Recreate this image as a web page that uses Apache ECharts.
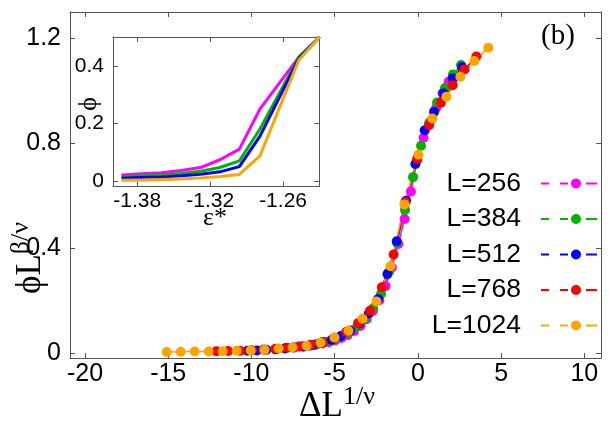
<!DOCTYPE html>
<html>
<head>
<meta charset="utf-8">
<script src="https://cdn.jsdelivr.net/npm/echarts@6/dist/echarts.min.js"></script>
<style>
    html, body { margin: 0; padding: 0; background: #fff; }
    #chart { width: 610px; height: 427px; }
</style>
</head>
<body>
<div id="chart"></div>
<script>
    // main panel: scaled data, one x/y pair of arrays per system size
    var x256 = [-6.88, -6.50, -6.12, -5.74, -5.36, -4.98, -4.60, -4.22, -3.84, -3.46, -3.08, -2.70, -2.32, -1.94, -1.56, -1.18, -0.80, -0.42, -0.04, 0.34, 0.72, 1.10, 1.48, 1.86];
    var y256 = [0.024, 0.027, 0.030, 0.035, 0.040, 0.047, 0.056, 0.068, 0.083, 0.102, 0.128, 0.160, 0.200, 0.255, 0.325, 0.415, 0.510, 0.615, 0.735, 0.820, 0.880, 0.935, 0.990, 1.035];

    var x384 = [-8.45, -7.97, -7.49, -7.01, -6.53, -6.05, -5.57, -5.09, -4.61, -4.13, -3.65, -3.17, -2.69, -2.21, -1.73, -1.25, -0.77, -0.29, 0.19, 0.67, 1.15, 1.63, 2.11, 2.59];
    var y384 = [0.014, 0.017, 0.020, 0.024, 0.028, 0.034, 0.041, 0.050, 0.062, 0.078, 0.100, 0.130, 0.170, 0.225, 0.310, 0.420, 0.545, 0.670, 0.790, 0.875, 0.955, 1.010, 1.062, 1.098];

    var x512 = [-10.23, -9.67, -9.11, -8.55, -7.99, -7.43, -6.87, -6.31, -5.75, -5.19, -4.63, -4.07, -3.51, -2.95, -2.39, -1.83, -1.27, -0.71, -0.15, 0.41, 0.97, 1.53, 2.09, 2.65];
    var y512 = [0.008, 0.009, 0.011, 0.013, 0.016, 0.020, 0.024, 0.030, 0.038, 0.049, 0.064, 0.085, 0.112, 0.150, 0.205, 0.300, 0.425, 0.580, 0.720, 0.849, 0.919, 0.990, 1.047, 1.090];

    var x768 = [-12.11, -11.40, -10.69, -9.98, -9.27, -8.56, -7.85, -7.14, -6.43, -5.72, -5.01, -4.30, -3.59, -2.88, -2.17, -1.46, -0.75, -0.04, 0.67, 1.38, 2.09, 2.80, 3.51];
    var y768 = [0.006, 0.007, 0.008, 0.010, 0.012, 0.015, 0.019, 0.024, 0.031, 0.041, 0.057, 0.080, 0.113, 0.160, 0.250, 0.375, 0.575, 0.740, 0.868, 0.954, 1.021, 1.081, 1.130];

    var x1024 = [-15.09, -14.25, -13.41, -12.57, -11.73, -10.89, -10.05, -9.21, -8.37, -7.53, -6.69, -5.85, -5.01, -4.17, -3.33, -2.49, -1.65, -0.81, 0.03, 0.87, 1.71, 2.55, 3.39, 4.23];
    var y1024 = [0.003, 0.004, 0.005, 0.005, 0.006, 0.008, 0.009, 0.011, 0.016, 0.020, 0.027, 0.038, 0.058, 0.084, 0.130, 0.196, 0.330, 0.566, 0.756, 0.894, 0.977, 1.053, 1.113, 1.164];

    // inset: order parameter vs eps*
    var epsVals = [-1.393, -1.377, -1.360, -1.344, -1.328, -1.312, -1.296, -1.279, -1.247, -1.230];
    var phi256 = [0.020, 0.024, 0.028, 0.036, 0.046, 0.073, 0.110, 0.250, 0.430, 0.500];
    var phi384 = [0.014, 0.017, 0.020, 0.025, 0.033, 0.046, 0.069, 0.180, 0.430, 0.500];
    var phi512 = [0.009, 0.011, 0.013, 0.017, 0.023, 0.031, 0.049, 0.155, 0.425, 0.500];
    var phi1024 = [0.002, 0.003, 0.004, 0.006, 0.010, 0.015, 0.022, 0.087, 0.420, 0.500];

    var mainXTicks = [-20, -15, -10, -5, 0, 5, 10];
    var mainYTicks = [0, 0.4, 0.8, 1.2];
    var insetXTicks = [-1.38, -1.32, -1.26];
    var insetYTicks = [0, 0.2, 0.4];

    var sizeNames = ['L=256', 'L=384', 'L=512', 'L=768', 'L=1024'];
    var colors = ['#ff00ff', '#00b400', '#0000ff', '#ff0000', '#ffa500'];

    function pairs(xs, ys) {
        var out = [];
        for (var i = 0; i < xs.length; i++) {
            out.push([xs[i], ys[i]]);
        }
        return out;
    }

    var axisColor = '#555';

    function axis(gridIndex, position, min, max, ticks, showLabel, fontSize) {
        return {
            type: 'value',
            gridIndex: gridIndex,
            position: position,
            min: min,
            max: max,
            axisLine: { show: true, onZero: false, lineStyle: { color: axisColor, width: 1 } },
            axisTick: { show: true, inside: true, length: 5, customValues: ticks, lineStyle: { color: axisColor } },
            axisLabel: {
                show: showLabel,
                customValues: ticks,
                color: '#000',
                fontSize: fontSize,
                fontFamily: 'Liberation Sans',
                margin: (position === 'left') ? 9 : 4
            },
            splitLine: { show: false }
        };
    }

    var mainSeries = [
        [x256, y256], [x384, y384], [x512, y512], [x768, y768], [x1024, y1024]
    ].map(function (d, i) {
        return {
            name: sizeNames[i],
            type: 'line',
            xAxisIndex: 0,
            yAxisIndex: 0,
            data: pairs(d[0], d[1]),
            symbol: 'circle',
            symbolSize: 10,
            itemStyle: { color: colors[i] },
            lineStyle: { color: colors[i], width: 1.5 },
            emphasis: { disabled: true }
        };
    });

    var insetSeries = [phi256, phi384, phi512, phi1024].map(function (p, i) {
        var c = [colors[0], colors[1], colors[2], colors[4]][i];
        return {
            name: 'inset' + i,
            type: 'line',
            xAxisIndex: 2,
            yAxisIndex: 2,
            data: pairs(epsVals, p),
            symbol: 'none',
            lineStyle: { color: c, width: 3 },
            emphasis: { disabled: true }
        };
    });

    var serif = 'Liberation Serif, DejaVu Serif, serif';
    var titleRich = {
        a: { fontFamily: serif, fontSize: 35, lineHeight: 40, verticalAlign: 'bottom', fill: '#000' },
        b: { fontFamily: serif, fontSize: 26, lineHeight: 26, verticalAlign: 'top', fill: '#000' }
    };

    var option = {
        animation: false,
        grid: [
            { left: 70, right: 9, top: 12, bottom: 69, outerBoundsMode: 'none' },
            { left: 113, right: 290.5, top: 37, bottom: 240.5, outerBoundsMode: 'none' }
        ],
        xAxis: [
            axis(0, 'bottom', -20.9, 11, mainXTicks, true, 25),
            axis(0, 'top', -20.9, 11, mainXTicks, false, 25),
            axis(1, 'bottom', -1.40, -1.23, insetXTicks, true, 21),
            axis(1, 'top', -1.40, -1.23, insetXTicks, false, 21)
        ],
        yAxis: [
            axis(0, 'left', -0.02, 1.3, mainYTicks, true, 25),
            axis(0, 'right', -0.02, 1.3, mainYTicks, false, 25),
            axis(1, 'left', -0.02, 0.5, insetYTicks, true, 21),
            axis(1, 'right', -0.02, 0.5, insetYTicks, false, 21)
        ],
        legend: {
            orient: 'vertical',
            right: 13,
            top: 170,
            padding: 0,
            align: 'right',
            itemGap: 8.5,
            itemWidth: 56,
            itemHeight: 12,
            icon: 'path://M0,4h8v2h-8z M19,4h8v2h-8z M45,4h11v2h-11z M30,5a5,5 0 1,0 10,0a5,5 0 1,0 -10,0z',
            itemStyle: { borderWidth: 0 },
            selectedMode: false,
            textStyle: { fontSize: 26.5, fontFamily: 'Liberation Sans', color: '#000', padding: [0, 15, 0, 0] },
            data: sizeNames
        },
        graphic: [
            {
                type: 'text', x: 337, y: 404,
                style: { text: '{a|ΔL}{b|1/ν}', align: 'center', verticalAlign: 'middle', rich: titleRich }
            },
            {
                type: 'text', x: 28, y: 258, rotation: Math.PI / 2,
                style: { text: '{a|ϕL}{b|β/ν}', align: 'center', verticalAlign: 'middle', rich: titleRich }
            },
            {
                type: 'text', x: 215, y: 218,
                style: { text: 'ε*', align: 'center', verticalAlign: 'middle', fontFamily: serif, fontSize: 26, fill: '#000' }
            },
            {
                type: 'text', x: 89, y: 104, rotation: Math.PI / 2,
                style: { text: 'ϕ', align: 'center', verticalAlign: 'middle', fontFamily: serif, fontSize: 26, fill: '#000' }
            },
            {
                type: 'text', x: 558, y: 36,
                style: { text: '(b)', align: 'center', verticalAlign: 'middle', fontFamily: serif, fontSize: 29, fill: '#000' }
            }
        ],
        series: mainSeries.concat(insetSeries)
    };

    var myChart = echarts.init(document.getElementById('chart'));
    myChart.setOption(option);
</script>
</body>
</html>
